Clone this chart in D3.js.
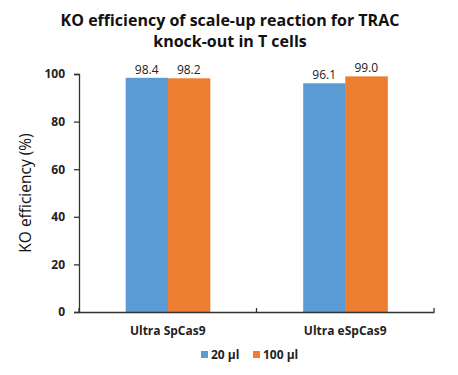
<!DOCTYPE html>
<html>
<head>
<meta charset="utf-8">
<script src="https://cdn.jsdelivr.net/npm/d3@7"></script>
<style>
  body { margin: 0; background: #fff; }
  text { font-family: "Open Sans", "Liberation Sans", sans-serif; }
</style>
</head>
<body>
<svg id="chart" width="458" height="375"></svg>
<script>
// data
var categories = ["Ultra SpCas9", "Ultra eSpCas9"];
var seriesNames = ["20 µl", "100 µl"];
var vol20 = [98.4, 96.1];
var vol100 = [98.2, 99.0];
var yTicks = [0, 20, 40, 60, 80, 100];
var colors = ["#5B9BD5", "#ED7D31"];

var svg = d3.select("#chart");
var margin = { left: 79, right: 24, top: 74, bottom: 63 };
var width = 458, height = 375;

var x = d3.scaleBand()
  .domain(categories)
  .range([margin.left, width - margin.right]);

var inner = d3.scaleBand()
  .domain(seriesNames)
  .range([0, x.bandwidth()])
  .paddingInner(0)
  .paddingOuter(1.11);

var y = d3.scaleLinear()
  .domain([0, 100])
  .range([height - margin.bottom, margin.top]);

var rows = [];
categories.forEach(function (c, i) {
  rows.push({ cat: c, s: seriesNames[0], v: vol20[i], k: 0 });
  rows.push({ cat: c, s: seriesNames[1], v: vol100[i], k: 1 });
});

// bars
svg.selectAll("rect.bar")
  .data(rows)
  .enter().append("rect")
  .attr("class", "bar")
  .attr("x", d => x(d.cat) + inner(d.s))
  .attr("width", inner.bandwidth() + 0.5)
  .attr("y", d => y(d.v))
  .attr("height", d => y(0) - y(d.v))
  .attr("fill", d => colors[d.k]);

// value labels
svg.selectAll("text.val")
  .data(rows)
  .enter().append("text")
  .attr("class", "val")
  .attr("x", d => x(d.cat) + inner(d.s) + inner.bandwidth() / 2)
  .attr("y", d => y(d.v) - 4)
  .attr("text-anchor", "middle")
  .attr("font-size", 12)
  .attr("fill", "#222")
  .text(d => d.v.toFixed(1));

// y axis
var yAxis = svg.append("g")
  .attr("transform", "translate(" + margin.left + ",0)")
  .call(d3.axisLeft(y).tickValues(yTicks).tickSize(5).tickPadding(9));
yAxis.selectAll("text").attr("font-size", 12).attr("font-weight", "bold").attr("fill", "#222")
  .style("font-family", "'Open Sans', sans-serif");
yAxis.selectAll("line,path").attr("stroke", "#333").attr("stroke-width", 1.3);

// x axis
var xAxis = svg.append("g")
  .attr("transform", "translate(0," + y(0) + ")")
  .call(d3.axisBottom(x).tickSize(0).tickPadding(14));
xAxis.select("path").attr("stroke", "#333").attr("stroke-width", 1.5);
xAxis.selectAll("text").attr("font-size", 12).attr("font-weight", "bold").attr("fill", "#222")
  .style("font-family", "'Open Sans', sans-serif");
// boundary ticks between categories
var bounds = [margin.left, x(categories[1]), width - margin.right];
svg.selectAll("line.bt")
  .data(bounds)
  .enter().append("line")
  .attr("x1", d => d).attr("x2", d => d)
  .attr("y1", y(0)).attr("y2", y(0) - 4)
  .attr("stroke", "#333").attr("stroke-width", 1.3);

// title
var title = svg.append("text")
  .attr("x", 230)
  .attr("text-anchor", "middle")
  .attr("font-size", 16)
  .attr("font-weight", "bold")
  .attr("fill", "#111");
title.append("tspan").attr("x", 230).attr("y", 26).text("KO efficiency of scale-up reaction for TRAC");
title.append("tspan").attr("x", 230).attr("y", 47).text("knock-out in T cells");

// y label
svg.append("text")
  .attr("transform", "translate(31," + ((y(0) + y(100)) / 2) + ") rotate(-90)")
  .attr("text-anchor", "middle")
  .attr("font-size", 15.5)
  .attr("fill", "#111")
  .text("KO efficiency (%)");

// legend
var legend = svg.append("g").attr("transform", "translate(0,355)");
var legX = [201, 253];
seriesNames.forEach(function (s, i) {
  legend.append("rect")
    .attr("x", legX[i]).attr("y", -4)
    .attr("width", 7).attr("height", 7)
    .attr("fill", colors[i]);
  legend.append("text")
    .attr("x", legX[i] + 10).attr("y", 4)
    .attr("font-size", 12).attr("font-weight", "bold").attr("fill", "#222")
    .text(s);
});
</script>
</body>
</html>
